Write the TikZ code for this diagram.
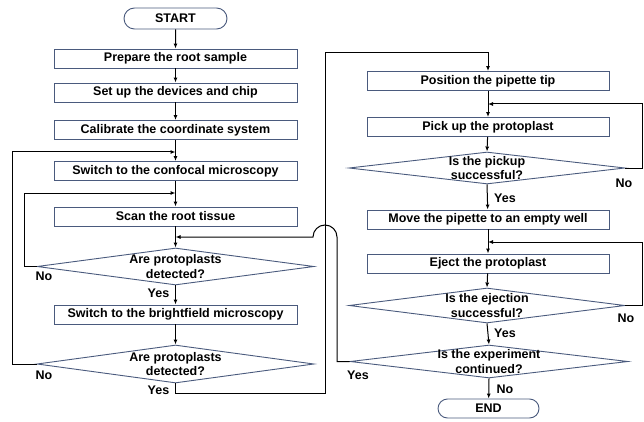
\documentclass[tikz,border=0pt]{standalone}
\usepackage{fontspec}
\setmainfont{Liberation Sans}
\usetikzlibrary{shapes.geometric,shapes.misc,arrows.meta}
\definecolor{boxc}{RGB}{74,90,125}
\begin{document}
\begin{tikzpicture}[x=1pt,y=-1pt,
  every node/.style={font=\fontsize{12.5}{14.5}\selectfont\bfseries},
  stepbox/.style={draw=boxc,line width=0.9pt,rectangle,minimum height=19pt,inner sep=0pt},
  lbox/.style={stepbox,minimum width=243pt},
  rbox/.style={stepbox,minimum width=242pt},
  term/.style={draw=boxc,line width=0.9pt,rounded rectangle,inner sep=0pt},
  dec/.style={draw=boxc,line width=0.9pt,diamond,inner sep=0pt},
  dtext/.style={align=center,inner sep=0pt},
  lab/.style={inner sep=0pt},
  conn/.style={line width=1pt,black},
  arr/.style={conn,-{Latex[length=5pt,width=4pt]}}
]
\useasboundingbox (0,0) rectangle (644,422);
% left column
\node[term,minimum width=103pt,minimum height=21pt] (start) at (175.5,18.5) {START};
\node[lbox] (prep) at (175.5,58.5) {Prepare the root sample};
\node[lbox] (setup) at (175.5,92.5) {Set up the devices and chip};
\node[lbox] (calib) at (175.5,130) {Calibrate the coordinate system};
\node[lbox] (conf) at (175.5,171) {Switch to the confocal microscopy};
\node[lbox] (scan) at (175.5,216.5) {Scan the root tissue};
\node[dec,minimum width=277pt,minimum height=37pt] (d1) at (175.5,266.5) {};
\node[dtext] at (d1) {Are protoplasts\\detected?};
\node[lbox] (bright) at (175.5,314.5) {Switch to the brightfield microscopy};
\node[dec,minimum width=277pt,minimum height=38pt] (d2) at (175.5,364) {};
\node[dtext] at (d2) {Are protoplasts\\detected?};
% right column
\node[rbox] (pos) at (488,81) {Position the pipette tip};
\node[rbox] (pick) at (488,127) {Pick up the protoplast};
\node[dec,minimum width=276pt,minimum height=32pt] (d3) at (487,168) {};
\node[dtext] at (d3) {Is the pickup\\successful?};
\node[rbox] (move) at (488,219.5) {Move the pipette to an empty well};
\node[rbox] (eject) at (488,263.5) {Eject the protoplast};
\node[dec,minimum width=276pt,minimum height=35pt] (d4) at (487,305.5) {};
\node[dtext] at (d4) {Is the ejection\\successful?};
\node[dec,minimum width=278pt,minimum height=33pt] (d5) at (489,361.5) {};
\node[dtext] at (d5) {Is the experiment\\continued?};
\node[term,minimum width=101pt,minimum height=19pt] (end) at (488.5,408.5) {END};
% junction coordinates
\coordinate (j1) at (175.5,152);
\coordinate (j2) at (175.5,193);
\coordinate (j5) at (175.5,237);
\coordinate (j3) at (488,104);
\coordinate (j4) at (488,242);
\coordinate (c1) at (12,152);
\coordinate (c2) at (24,193);
\coordinate (c3) at (175.5,393);
\coordinate (c4) at (325,393);
\coordinate (c5) at (325,53);
\coordinate (c6) at (488,53);
\coordinate (c7) at (642,104);
\coordinate (c8) at (642,242);
\coordinate (c9) at (337,237);
% main flow
\draw[arr] (start) -- (prep);
\draw[arr] (prep) -- (setup);
\draw[arr] (setup) -- (calib);
\draw[arr] (calib) -- (conf);
\draw[arr] (conf) -- (scan);
\draw[arr] (scan) -- (d1.north);
\draw[arr] (d1.south) -- (bright);
\draw[arr] (bright) -- (d2.north);
\draw[arr] (pos) -- (pick);
\draw[arr] (pick) -- (d3.north);
\draw[arr] (d3.south) -- (move);
\draw[arr] (move) -- (eject);
\draw[arr] (eject) -- (d4.north);
\draw[arr] (d4.south) -- (d5.north);
\draw[arr] (d5.south) -- (end);
% loops
\draw[arr] (d2.west) -- (c1 |- d2.west) -- (c1) -- (j1);
\draw[arr] (d1.west) -- (c2 |- d1.west) -- (c2) -- (j2);
\draw[arr] (d2.south) -- (c3) -- (c4) -- (c5) -- (c6) -- (pos.north);
\draw[arr] (d3.east) -- (c7 |- d3.east) -- (c7) -- (j3);
\draw[arr] (d4.east) -- (c8 |- d4.east) -- (c8) -- (j4);
\draw[arr] (d5.west) -- (c9 |- d5.west) -- (c9) arc[start angle=0,end angle=180,radius=12pt] -- (j5);
% labels
\node[lab] at (44,276) {No};
\node[lab] at (44,375) {No};
\node[lab] at (158.5,293) {Yes};
\node[lab] at (158.5,390) {Yes};
\node[lab] at (505,198) {Yes};
\node[lab] at (505,333) {Yes};
\node[lab] at (624,183) {No};
\node[lab] at (626,318) {No};
\node[lab] at (358,375) {Yes};
\node[lab] at (505,389) {No};
\end{tikzpicture}
\end{document}
